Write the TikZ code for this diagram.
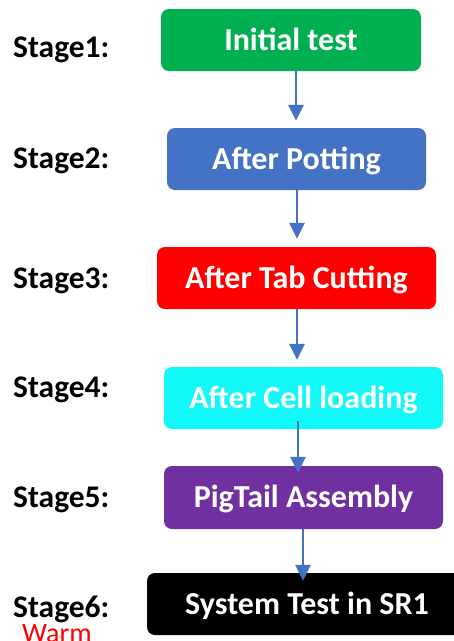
\documentclass[tikz,border=0pt]{standalone}
\usepackage{fontspec}
\setmainfont{Carlito}
\usetikzlibrary{arrows.meta}
\definecolor{cgreen}{HTML}{00B050}
\definecolor{cblue}{HTML}{4472C4}
\definecolor{cred}{HTML}{FF0000}
\definecolor{ccyan}{HTML}{12F8F8}
\definecolor{cpurple}{HTML}{7030A0}
\tikzset{
  stagebox/.style={rectangle, rounded corners=8pt, inner sep=0pt, minimum height=62pt,
    text=white, font=\fontsize{32}{38}\selectfont\bfseries, text height=20.5pt, text depth=0pt},
  stagelabel/.style={anchor=base west, inner sep=0pt, font=\fontsize{31.5}{38}\selectfont\bfseries},
  arr/.style={draw=cblue, line width=2.6pt, -{Triangle[width=15pt,length=16pt]}}
}
\begin{document}
\begin{tikzpicture}[x=1pt,y=-1pt]
\clip (0,0) rectangle (454,641);
\fill[white] (0,0) rectangle (454,641);
% boxes
\node[stagebox, fill=cgreen, minimum width=260pt] (b1) at (291,40) {Initial test};
\node[stagebox, fill=cblue, minimum width=259pt] (b2) at (296.5,159) {After Potting};
\node[stagebox, fill=cred, minimum width=279pt] (b3) at (296.5,278) {After Tab Cutting};
\node[stagebox, fill=ccyan, minimum width=279pt] (b4) at (303.5,398) {After Cell loading};
\node[stagebox, fill=cpurple, minimum width=279pt, minimum height=63pt] (b5) at (303.5,497.5) {PigTail Assembly};
\node[stagebox, fill=black, minimum width=320pt] (b6) at (307,604) {System Test in SR1};
% labels
\node[stagelabel] (s1) at (13,57) {Stage1:};
\node[stagelabel] (s2) at (13,168) {Stage2:};
\node[stagelabel] (s3) at (13,288) {Stage3:};
\node[stagelabel] (s4) at (13,397) {Stage4:};
\node[stagelabel] (s5) at (13,507) {Stage5:};
\node[stagelabel] (s6) at (13,617) {Stage6:};
\node[anchor=base west, inner sep=0pt, text=cred, font=\fontsize{28}{33}\selectfont] (w) at (22,642) {Warm};
% arrows
\draw[arr] ([xshift=5pt]b1.south) -- ([xshift=-0.5pt,yshift=7pt]b2.north);
\draw[arr] ([xshift=0.5pt]b2.south) -- ([xshift=0.5pt,yshift=8pt]b3.north);
\draw[arr] ([xshift=0.5pt]b3.south) -- ([xshift=-6.5pt,yshift=7pt]b4.north);
\draw[arr] ([xshift=-5.5pt,yshift=8pt]b4.south) -- ([xshift=-5.5pt,yshift=-7pt]b5.north);
\draw[arr] ([xshift=-0.5pt]b5.south) -- ([xshift=-4pt,yshift=-8pt]b6.north);
\end{tikzpicture}
\end{document}
